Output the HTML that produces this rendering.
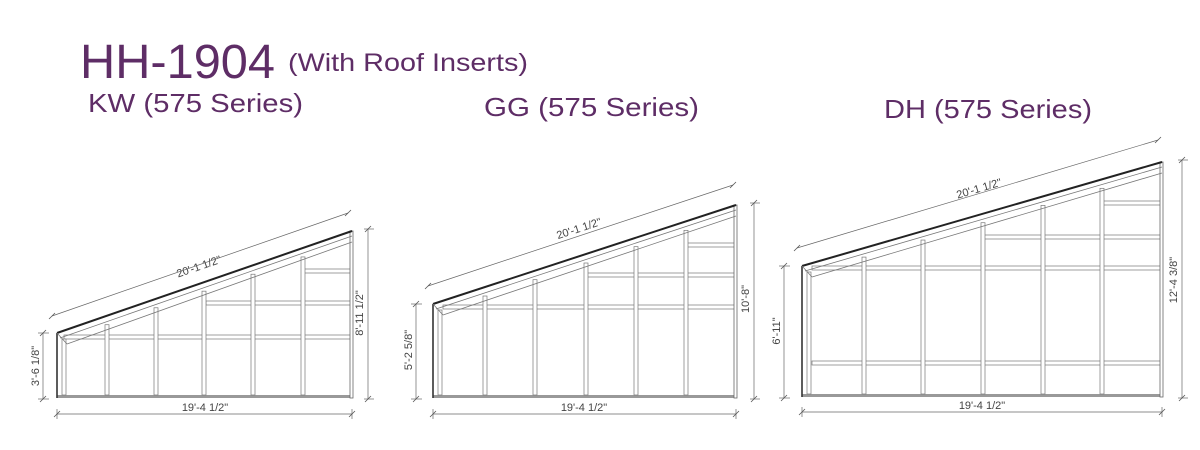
<!DOCTYPE html>
<html><head><meta charset="utf-8"><style>
html,body{margin:0;padding:0;background:#fff;width:1200px;height:450px;overflow:hidden}
svg{display:block}
.t{font-family:"Liberation Sans",sans-serif;fill:#5e2d66}
.d{font-family:"Liberation Sans",sans-serif;fill:#444;font-size:11px;font-weight:300}
</style></head><body>
<svg id="s" width="1200" height="450" viewBox="0 0 1200 450" xmlns="http://www.w3.org/2000/svg">
<text class="t" x="80" y="78" font-size="48" textLength="195" lengthAdjust="spacingAndGlyphs">HH-1904</text>
<text class="t" x="288" y="71" font-size="25" textLength="240" lengthAdjust="spacingAndGlyphs">(With Roof Inserts)</text>
<text class="t" x="88" y="112" font-size="26" textLength="215" lengthAdjust="spacingAndGlyphs">KW (575 Series)</text>
<text class="t" x="484" y="116" font-size="26" textLength="215" lengthAdjust="spacingAndGlyphs">GG (575 Series)</text>
<text class="t" x="884" y="118" font-size="26" textLength="208" lengthAdjust="spacingAndGlyphs">DH (575 Series)</text>

<text class="d" transform="translate(200,270) rotate(-19)" text-anchor="middle">20'-1 1/2"</text>
<text class="d" transform="translate(363,313) rotate(-90)" text-anchor="middle">8'-11 1/2"</text>
<text class="d" transform="translate(39,366) rotate(-90)" text-anchor="middle">3'-6 1/8"</text>
<text class="d" x="205" y="411" text-anchor="middle">19'-4 1/2"</text>

<text class="d" transform="translate(580,232) rotate(-18)" text-anchor="middle">20'-1 1/2"</text>
<text class="d" transform="translate(749,299) rotate(-90)" text-anchor="middle">10'-8"</text>
<text class="d" transform="translate(412,350) rotate(-90)" text-anchor="middle">5'-2 5/8"</text>
<text class="d" x="584" y="411" text-anchor="middle">19'-4 1/2"</text>

<text class="d" transform="translate(980,192) rotate(-16.5)" text-anchor="middle">20'-1 1/2"</text>
<text class="d" transform="translate(1177,280) rotate(-90)" text-anchor="middle">12'-4 3/8"</text>
<text class="d" transform="translate(780,331) rotate(-90)" text-anchor="middle">6'-11"</text>
<text class="d" x="982" y="409" text-anchor="middle">19'-4 1/2"</text>
<g id="g"></g>
</svg>
<script>
var g=document.getElementById('g'),NS='http://www.w3.org/2000/svg';
function el(n,a){var e=document.createElementNS(NS,n);for(var k in a)e.setAttribute(k,a[k]);g.appendChild(e);return e}
function ln(x1,y1,x2,y2,c,w){el('line',{x1:x1,y1:y1,x2:x2,y2:y2,stroke:c||'#777','stroke-width':w||0.8})}
function tick(x,y){ln(x-3,y+3,x+3,y-3,'#555',0.8)}
function house(o){
 var L=o.L,R=o.R,B=o.B,TL=o.TL,TR=o.TR;
 var ry=function(x){return TL+(TR-TL)*(x-L)/(R-L)};
 // bottom bar
 el('rect',{x:L,y:B-3,width:R-L,height:3,fill:'#999'});
 // horizontals
 o.h.forEach(function(h){var x1=h[1],x2=R;el('rect',{x:x1,y:h[0]-2,width:x2-x1,height:4,fill:'#fff',stroke:'#777','stroke-width':0.7})});
 // posts
 o.p.forEach(function(x){var t=ry(x)+9;el('rect',{x:x-2,y:t,width:4,height:B-3-t,fill:'#fff',stroke:'#777','stroke-width':0.7})});
 el('rect',{x:R-2,y:TR,width:3,height:B-TR,fill:'#fff',stroke:'#666','stroke-width':0.8});
 // inner left post
 el('rect',{x:L+5,y:TL+6,width:4,height:B-TL-9,fill:'#fff',stroke:'#777','stroke-width':0.7});
 // roof lines
 ln(L+3,TL+5,R,TR+5,'#777',0.8);
 ln(L+10,TL+11,R,TR+11,'#777',0.8);
 ln(L,TL,R,TR,'#222',2);
 ln(L,TL,L,B,'#333',1.6);
 ln(L,TL,L+10,TL+11,'#777',0.8);
 // dims
 var d=o.dg;ln(d[0],d[1],d[2],d[3],'#666',0.7);tick(d[0],d[1]);tick(d[2],d[3]);
 ln(o.rx,TR-2,o.rx,B+1,'#666',0.7);ln(o.rx-4,TR-2,o.rx+6,TR-2,'#666',0.7);ln(o.rx-4,B+1,o.rx+6,B+1,'#666',0.7);tick(o.rx,TR-2);tick(o.rx,B+1);
 ln(o.lx,TL,o.lx,B+1,'#666',0.7);ln(o.lx-5,TL,o.lx+6,TL,'#666',0.7);ln(o.lx-5,B+1,o.lx+6,B+1,'#666',0.7);tick(o.lx,TL);tick(o.lx,B+1);
 ln(L,o.by,R,o.by,'#666',0.7);ln(L,o.by-5,L,o.by+5,'#666',0.7);ln(R,o.by-5,R,o.by+5,'#666',0.7);tick(L,o.by);tick(R,o.by);
}
house({L:57,R:352,B:398,TL:333,TR:231,p:[107,156,204,253,303],
 h:[[337,64],[303,206],[271,303]],dg:[52,316,348,213],rx:368,lx:43,by:414});
house({L:433,R:736,B:398,TL:304,TR:205,p:[485,535,586,636,686],
 h:[[307,443],[275,586],[245,686]],dg:[428,286,733,185],rx:754,lx:416,by:414});
house({L:802,R:1162,B:397,TL:266,TR:162,p:[864,923,983,1043,1102],
 h:[[268,812],[363,812],[237,983],[203,1102]],dg:[797,248,1158,140],rx:1182,lx:784,by:412});
</script>
</body></html>
